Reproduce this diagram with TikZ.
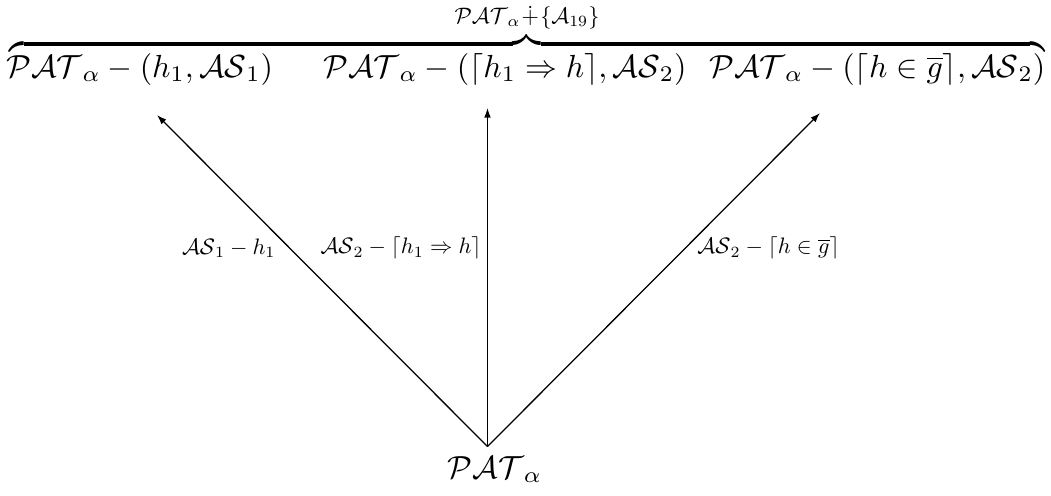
\documentclass[tikz,border=0pt]{standalone}
\usepackage{amssymb}
\usepackage{graphicx}
\usetikzlibrary{arrows.meta}
\newcommand{\smalllab}[1]{\scalebox{0.7}{$#1$}}
\begin{document}
\begin{tikzpicture}[x=0.313pt,y=-0.313pt,
  txt/.style={inner sep=0pt},
  lab/.style={inner sep=0pt},
  arr/.style={line width=0.4pt,-{Latex[length=3pt,width=2.1pt]}}]
\useasboundingbox (0,0) rectangle (1051,495);
% top row
\node[txt,anchor=base west] (n1) at (6,77) {$\mathcal{PAT}_\alpha - (h_1, \mathcal{AS}_1)$};
\node[txt,anchor=base west] (n2) at (323,77) {$\mathcal{PAT}_\alpha - (\lceil h_1 \Rightarrow h\rceil, \mathcal{AS}_2)$};
\node[txt,anchor=base east] (n3) at (1046,77) {$\mathcal{PAT}_\alpha - (\lceil h \in \overline{g}\rceil, \mathcal{AS}_2)$};
% brace
\node[txt,anchor=south] (br) at (527,56) {$\overbrace{\hspace{324pt}}^{\mbox{\smalllab{\mathcal{PAT}_\alpha\mskip1mu{\dotplus}\mskip1mu\{\mathcal{A}_{19}\}}}}$};
% bottom
\node[txt,anchor=base] (b) at (495,478) {$\mathcal{PAT}_\alpha$};
\coordinate (t1) at (157,115);
\coordinate (t2) at (487.5,108);
\coordinate (t3) at (820,113);
\coordinate (o) at (487.5,446.5);
\draw[arr] (o) -- node[lab,pos=0.599,anchor=east,xshift=-4.2pt] {\smalllab{\mathcal{AS}_1 - h_1}} (t1);
\draw[arr] (o) -- node[lab,pos=0.586,anchor=east,xshift=-1.7pt] {\smalllab{\mathcal{AS}_2 - \lceil h_1 \Rightarrow h\rceil}} (t2);
\draw[arr] (o) -- node[lab,pos=0.595,anchor=west,xshift=3.6pt] {\smalllab{\mathcal{AS}_2 - \lceil h \in \overline{g}\rceil}} (t3);
\end{tikzpicture}
\end{document}
